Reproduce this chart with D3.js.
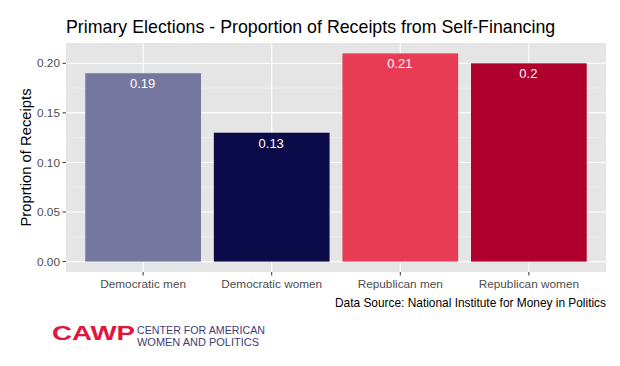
<!DOCTYPE html>
<html><head><meta charset="utf-8">
<script src="https://cdn.jsdelivr.net/npm/d3@7"></script>
<style>body{margin:0;background:#fff}svg{display:block}</style>
</head><body><svg id="c" width="620" height="366"></svg>
<script>
const categories = ["Democratic men","Democratic women","Republican men","Republican women"];
const values = [0.19, 0.13, 0.21, 0.20];
const labels = ["0.19","0.13","0.21","0.2"];
const colors = ["#76779e","#0c0b4a","#e83c55","#b0002d"];
const yTicks = [0, 0.05, 0.10, 0.15, 0.20];
const yMinor = [0.025, 0.075, 0.125, 0.175];

const svg = d3.select("#c");
const F = "Liberation Sans, Arial, Helvetica, sans-serif";
const L = 66, R = 606, T = 43, B = 272;

// ggplot-like discrete scale: positions 1..n, limits 0.4..n+0.6
const n = categories.length;
const xc = d3.scaleLinear().domain([0.4, n + 0.6]).range([L, R]);
const y = d3.scaleLinear().domain([-0.0105, 0.2205]).range([B, T]);

svg.append("rect").attr("x", L).attr("y", T).attr("width", R - L).attr("height", B - T).attr("fill", "#e5e5e5");
svg.selectAll(".gmin").data(yMinor).enter().append("line")
  .attr("x1", L).attr("x2", R).attr("y1", d => y(d)).attr("y2", d => y(d))
  .attr("stroke", "#f2f2f2").attr("stroke-width", 0.6);
svg.selectAll(".gmaj").data(yTicks).enter().append("line")
  .attr("x1", L).attr("x2", R).attr("y1", d => y(d)).attr("y2", d => y(d))
  .attr("stroke", "#fff").attr("stroke-width", 1.1);
svg.selectAll(".gv").data(categories).enter().append("line")
  .attr("x1", (d, i) => xc(i + 1)).attr("x2", (d, i) => xc(i + 1)).attr("y1", T).attr("y2", B)
  .attr("stroke", "#fff").attr("stroke-width", 1.1);

const bw = xc(1.45) - xc(0.55);
svg.selectAll(".bar").data(values).enter().append("rect")
  .attr("x", (d, i) => xc(i + 1) - bw / 2).attr("width", bw)
  .attr("y", d => y(d)).attr("height", d => y(0) - y(d))
  .attr("fill", (d, i) => colors[i]);
svg.selectAll(".lab").data(values).enter().append("text")
  .attr("x", (d, i) => xc(i + 1) - 0.5).attr("y", d => y(d) + 15)
  .attr("text-anchor", "middle").attr("fill", "#fff")
  .style("font-family", F).style("font-size", "13px").text((d, i) => labels[i]);

// y axis
const ya = svg.append("g");
yTicks.forEach(t => {
  ya.append("line").attr("x1", L - 3.5).attr("x2", L).attr("y1", y(t)).attr("y2", y(t)).attr("stroke", "#333").attr("stroke-width", 1);
  ya.append("text").attr("x", L - 6).attr("y", y(t)).attr("dy", "0.35em").attr("text-anchor", "end")
    .attr("fill", "#4d4d4d").style("font-family", F).style("font-size", "11.8px").text(d3.format(".2f")(t));
});
// x axis
categories.forEach((c, i) => {
  svg.append("line").attr("x1", xc(i + 1)).attr("x2", xc(i + 1)).attr("y1", B).attr("y2", B + 3.5).attr("stroke", "#333");
  svg.append("text").attr("x", xc(i + 1)).attr("y", B + 16).attr("text-anchor", "middle")
    .attr("fill", "#4d4d4d").style("font-family", F).style("font-size", "11.8px").text(c);
});

svg.append("text").attr("transform", `translate(31,${(T + B) / 2}) rotate(-90)`).attr("text-anchor", "middle")
  .attr("fill", "#000").style("font-family", F).style("font-size", "14.8px").text("Proprtion of Receipts");

svg.append("text").attr("x", L).attr("y", 33).attr("fill", "#000")
  .style("font-family", F).style("font-size", "17.8px").text("Primary Elections - Proportion of Receipts from Self-Financing");

svg.append("text").attr("x", R).attr("y", 307).attr("text-anchor", "end").attr("fill", "#000")
  .style("font-family", F).style("font-size", "11.9px").text("Data Source: National Institute for Money in Politics");

// logo
svg.append("text").attr("x", 52).attr("y", 340).attr("fill", "#e0163e")
  .style("font-family", F).style("font-size", "21px").style("font-weight", "bold")
  .attr("textLength", 83).attr("lengthAdjust", "spacingAndGlyphs").text("CAWP");
svg.append("text").attr("x", 137).attr("y", 333.5).attr("fill", "#3f3d78")
  .style("font-family", F).style("font-size", "11px")
  .attr("textLength", 128).attr("lengthAdjust", "spacingAndGlyphs").text("CENTER FOR AMERICAN");
svg.append("text").attr("x", 137).attr("y", 345.5).attr("fill", "#3f3d78")
  .style("font-family", F).style("font-size", "11px")
  .attr("textLength", 122).attr("lengthAdjust", "spacingAndGlyphs").text("WOMEN AND POLITICS");
</script></body></html>
